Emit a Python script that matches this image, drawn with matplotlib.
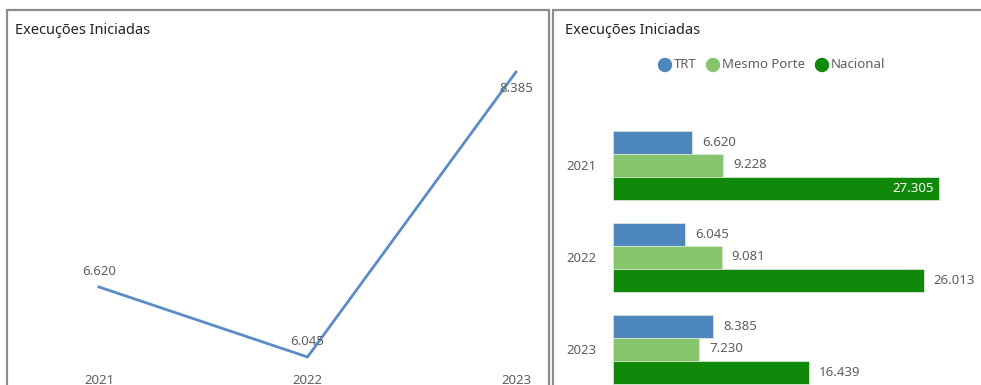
import matplotlib.pyplot as plt
import numpy as np
from matplotlib.patches import Rectangle, Ellipse

plt.rcParams['font.family'] = ['Noto Sans', 'DejaVu Sans']

# data
anos = ["2021", "2022", "2023"]
trt = [6620, 6045, 8385]
mesmo_porte = [9228, 9081, 7230]
nacional = [27305, 26013, 16439]

titulo = "Execuções Iniciadas"
cor_trt = "#4E86BE"
cor_mesmo = "#87C46E"
cor_nac = "#10890B"
cor_texto = "#605E5C"

W, H = 981, 385
fig = plt.figure(figsize=(W / 100, H / 100), dpi=100)


def px_axes(x0, y0, x1, y1):
    # axes placed by pixel box (top-left origin)
    return fig.add_axes([x0 / W, 1 - y1 / H, (x1 - x0) / W, (y1 - y0) / H])


def fmt(v):
    return f"{v:,}".replace(",", ".")


# panel frames
for x0, x1, xt in [(7, 549, 15), (553, 990, 565)]:
    fig.add_artist(Rectangle((x0 / W, -0.1), (x1 - x0) / W, 1.1 - 10 / H,
                             transform=fig.transFigure, fill=False,
                             edgecolor="#8C8C8C", lw=1.6))
    fig.text(xt / W, 1 - 30 / H, titulo, fontsize=10.5, color="#252423",
             va="center", ha="left")

# line chart (left)
ax1 = px_axes(20, 40, 540, 368)
x = np.arange(len(anos))
ax1.plot(x, trt, color="#5A8CC6", lw=2)
ax1.set_xlim(-(99 - 20) / 208.5, 2 + (540 - 516) / 208.5)
k = 1 / 0.1218
ax1.set_ylim(6045 - 11 * k, 6045 + 317 * k)
for i, v in enumerate(trt):
    dy = -12 if i == 2 else 11
    ax1.annotate(fmt(v), (i, v), xytext=(0, dy), textcoords="offset points",
                 ha="center", va="center", fontsize=9.5, color=cor_texto)
ax1.set_xticks(x, anos)
ax1.set_yticks([])
ax1.tick_params(axis="x", length=0, pad=4, labelsize=9.5, labelcolor=cor_texto)
for s in ax1.spines.values():
    s.set_visible(False)
ax1.patch.set_alpha(0)

# legend (right)
leg_items = [("TRT", cor_trt, 665), ("Mesmo Porte", cor_mesmo, 713), ("Nacional", cor_nac, 822)]
for nome, cor, xp in leg_items:
    fig.add_artist(Ellipse((xp / W, 1 - 65 / H), 13 / W, 13 / H, color=cor,
                           transform=fig.transFigure))
    fig.text((xp + 9) / W, 1 - 65 / H, nome, fontsize=9.5, color=cor_texto,
             va="center", ha="left")

# grouped horizontal bars (right)
ax2 = px_axes(613, 100, 981, 385)
sc = 0.01195
ax2.set_xlim(0, (981 - 613) / sc)
ax2.set_ylim(2 + (385 - 349) / 92, -(165 - 100) / 92)
pos = np.arange(len(anos))
h = 0.25
series = [(trt, cor_trt, -h), (mesmo_porte, cor_mesmo, 0), (nacional, cor_nac, h)]
for vals, cor, off in series:
    bars = ax2.barh(pos + off, vals, height=h, color=cor, edgecolor="#D8E8D0", lw=0.6)
    for b, v in zip(bars, vals):
        yc = b.get_y() + b.get_height() / 2
        if v > 27000:
            ax2.annotate(fmt(v), (v, yc), xytext=(-4, 0), textcoords="offset points",
                         ha="right", va="center", fontsize=9.5, color="white")
        else:
            ax2.annotate(fmt(v), (v, yc), xytext=(7, 0), textcoords="offset points",
                         ha="left", va="center", fontsize=9.5, color=cor_texto)
ax2.set_yticks(pos, anos)
ax2.set_xticks([])
ax2.tick_params(axis="y", length=0, pad=12, labelsize=9.5, labelcolor=cor_texto)
for s in ax2.spines.values():
    s.set_visible(False)
ax2.patch.set_alpha(0)

fig.savefig("out.png", dpi=100)
